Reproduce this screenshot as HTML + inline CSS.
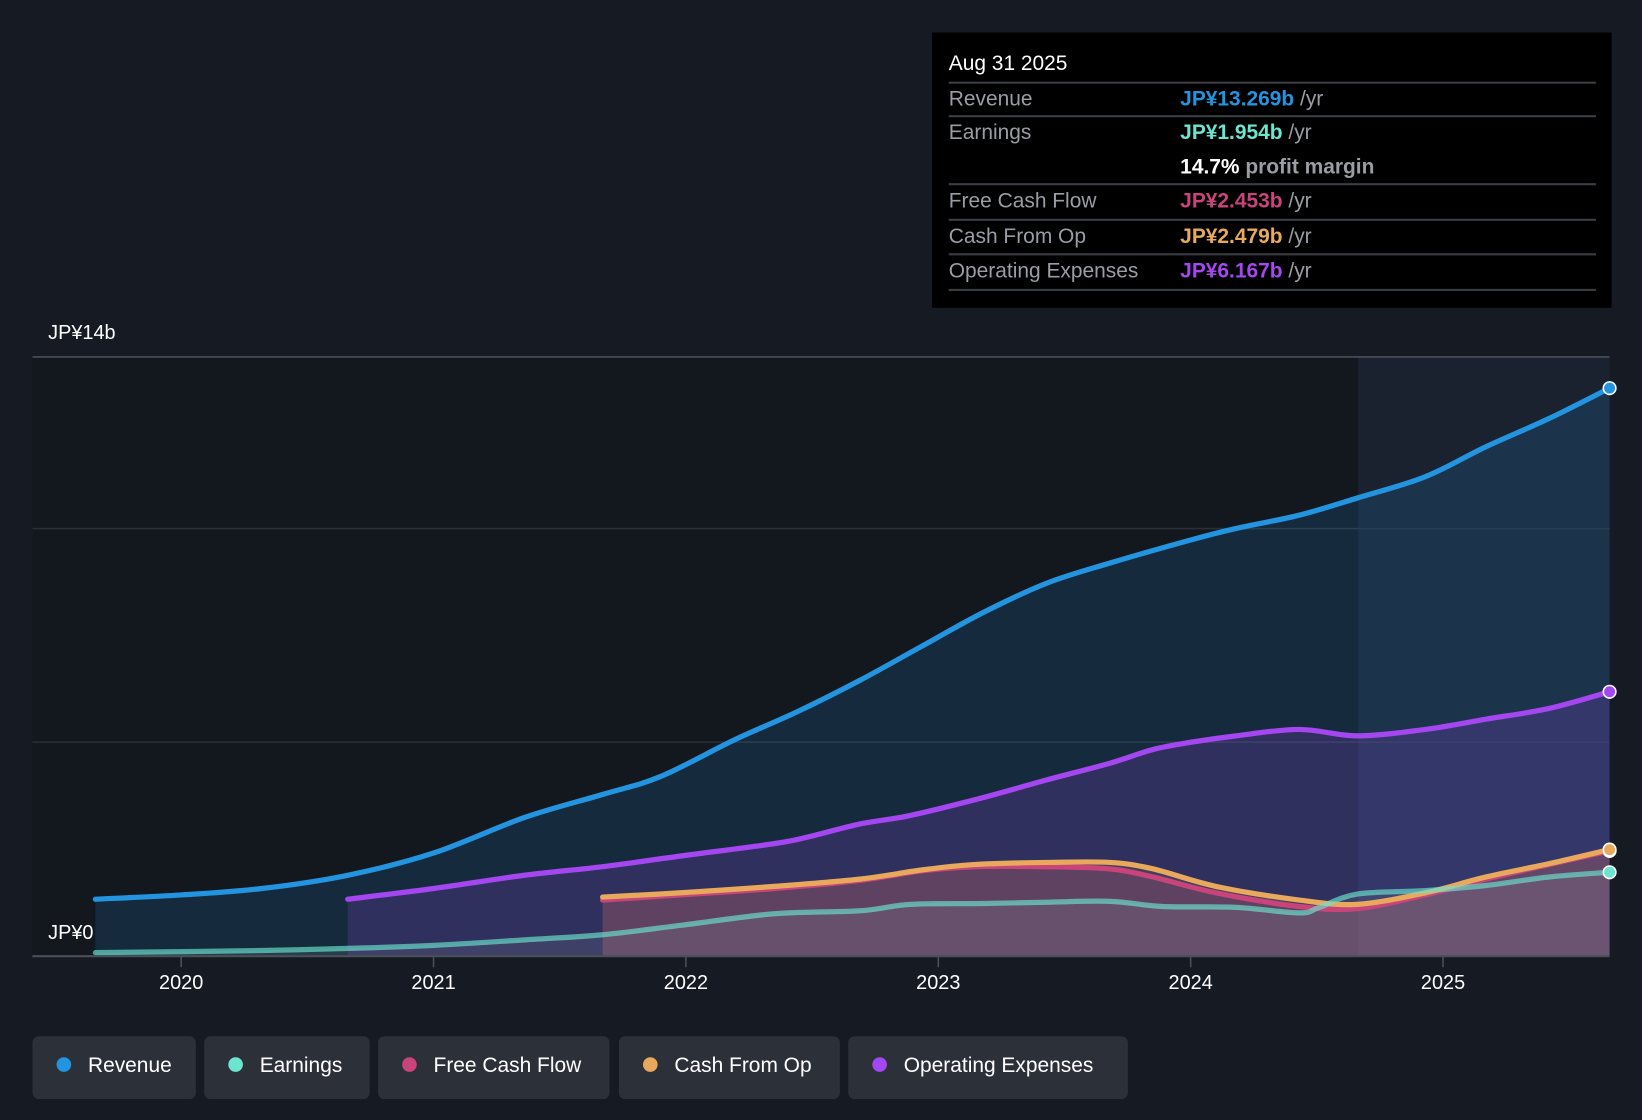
<!DOCTYPE html>
<html><head><meta charset="utf-8"><style>
html,body{margin:0;padding:0;background:#151a23;}
svg{display:block;font-family:"Liberation Sans",sans-serif;}
</style></head><body>
<svg id="chart" width="1642" height="1120" viewBox="0 0 1568 1070" preserveAspectRatio="none" xmlns="http://www.w3.org/2000/svg">
<rect x="0" y="0" width="1568" height="1070" fill="#151a23"/>
<rect x="31" y="341" width="1266" height="572" fill="#13171e"/>
<rect x="1297" y="341" width="240" height="572" fill="#1a2230"/>
<line x1="31" y1="505" x2="1537" y2="505" stroke="#2a2f38" stroke-width="1.5"/>
<line x1="31" y1="709" x2="1537" y2="709" stroke="#2a2f38" stroke-width="1.5"/>
<line x1="31" y1="341" x2="1537" y2="341" stroke="#4a4f58" stroke-width="1.5"/>
<g id="areas"></g>
<g id="lines"></g>
<line x1="31" y1="913.5" x2="1537" y2="913.5" stroke="#4a4f58" stroke-width="2"/>
<g id="xticks"></g>
<text x="46" y="324" fill="#ffffff" font-size="19">JP¥14b</text>
<text x="46" y="897" fill="#ffffff" font-size="19">JP¥0</text>

<g>
<rect x="890" y="31" width="649" height="263" fill="#000000"/>
<text x="906" y="67" fill="#fff" font-size="20">Aug 31 2025</text>
<g stroke="#3a3d42" stroke-width="2">
<line x1="906" y1="79" x2="1524" y2="79"/><line x1="906" y1="111" x2="1524" y2="111"/>
<line x1="906" y1="176" x2="1524" y2="176"/><line x1="906" y1="210" x2="1524" y2="210"/>
<line x1="906" y1="243" x2="1524" y2="243"/><line x1="906" y1="277" x2="1524" y2="277"/>
</g>
<g font-size="20" fill="#9a9da3">
<text x="906" y="101">Revenue</text><text x="906" y="133">Earnings</text>
<text x="906" y="198">Free Cash Flow</text><text x="906" y="232">Cash From Op</text><text x="906" y="265">Operating Expenses</text>
</g>
<g font-size="20" font-weight="bold">
<text x="1127" y="101"><tspan fill="#2394df">JP¥13.269b</tspan><tspan fill="#9a9da3" font-weight="normal"> /yr</tspan></text>
<text x="1127" y="133"><tspan fill="#6ce5d0">JP¥1.954b</tspan><tspan fill="#9a9da3" font-weight="normal"> /yr</tspan></text>
<text x="1127" y="166"><tspan fill="#ffffff">14.7%</tspan><tspan fill="#9a9da3"> profit margin</tspan></text>
<text x="1127" y="198"><tspan fill="#c8447a">JP¥2.453b</tspan><tspan fill="#9a9da3" font-weight="normal"> /yr</tspan></text>
<text x="1127" y="232"><tspan fill="#e8a95c">JP¥2.479b</tspan><tspan fill="#9a9da3" font-weight="normal"> /yr</tspan></text>
<text x="1127" y="265"><tspan fill="#a547f0">JP¥6.167b</tspan><tspan fill="#9a9da3" font-weight="normal"> /yr</tspan></text>
</g>
</g>

<g font-size="20" fill="#ffffff">
<g><rect x="31" y="990" width="156" height="60" rx="6" fill="#2c3039"/><circle cx="61" cy="1017" r="7" fill="#2394df"/><text x="84" y="1024">Revenue</text></g>
<g><rect x="195" y="990" width="158" height="60" rx="6" fill="#2c3039"/><circle cx="225" cy="1017" r="7" fill="#6ce5d0"/><text x="248" y="1024">Earnings</text></g>
<g><rect x="361" y="990" width="221" height="60" rx="6" fill="#2c3039"/><circle cx="391" cy="1017" r="7" fill="#c8447a"/><text x="414" y="1024">Free Cash Flow</text></g>
<g><rect x="591" y="990" width="211" height="60" rx="6" fill="#2c3039"/><circle cx="621" cy="1017" r="7" fill="#e8a95c"/><text x="644" y="1024">Cash From Op</text></g>
<g><rect x="810" y="990" width="267" height="60" rx="6" fill="#2c3039"/><circle cx="840" cy="1017" r="7" fill="#a547f0"/><text x="863" y="1024">Operating Expenses</text></g>
</g>
</svg>
<script>
const xTickYears = [2020, 2021, 2022, 2023, 2024, 2025];
const revenueDates = [2019.66,2020,2020.32,2020.66,2021,2021.36,2021.67,2021.9,2022.19,2022.44,2022.69,2022.93,2023.18,2023.43,2023.68,2024,2024.18,2024.43,2024.66,2024.93,2025.17,2025.42,2025.66];
const revenueValues = [1.32,1.42,1.57,1.88,2.4,3.23,3.77,4.19,5.04,5.7,6.44,7.22,8.03,8.71,9.18,9.72,9.99,10.3,10.7,11.2,11.9,12.56,13.27];
const opexDates = [2020.66,2021,2021.36,2021.67,2021.98,2022.35,2022.48,2022.69,2022.89,2023.18,2023.43,2023.68,2023.85,2024,2024.18,2024.43,2024.66,2024.93,2025.17,2025.42,2025.66];
const opexValues = [1.32,1.57,1.88,2.08,2.33,2.62,2.77,3.08,3.28,3.7,4.11,4.5,4.82,4.99,5.14,5.29,5.14,5.29,5.53,5.78,6.17];
const cfoDates = [2021.67,2021.98,2022.35,2022.69,2022.93,2023.14,2023.43,2023.68,2023.85,2024.1,2024.43,2024.66,2024.93,2025.17,2025.42,2025.66];
const cfoValues = [1.37,1.47,1.62,1.79,2.0,2.13,2.18,2.18,2.03,1.62,1.30,1.2,1.47,1.84,2.15,2.48];
const fcfDates = [2021.67,2021.98,2022.35,2022.69,2022.93,2023.14,2023.43,2023.68,2023.85,2024.1,2024.43,2024.66,2024.93,2025.17,2025.42,2025.66];
const fcfValues = [1.30,1.42,1.57,1.76,1.98,2.08,2.08,2.03,1.84,1.47,1.15,1.10,1.42,1.79,2.13,2.45];
const earningsDates = [2019.66,2020.32,2020.66,2021,2021.36,2021.67,2021.98,2022.35,2022.69,2022.89,2023.18,2023.43,2023.68,2023.89,2024.18,2024.43,2024.51,2024.66,2024.93,2025.17,2025.42,2025.66];
const earningsValues = [0.07,0.12,0.17,0.24,0.37,0.49,0.71,0.98,1.05,1.2,1.22,1.25,1.27,1.15,1.13,1.0,1.13,1.44,1.52,1.64,1.84,1.95];

const xScale = y => 173 + (y - 2020) * 241;
const yScale = v => 913 - v / 14 * 572;
const NS = "http://www.w3.org/2000/svg";

function smoothPath(pts){
  let d = "M" + pts[0][0] + "," + pts[0][1];
  for (let i = 0; i < pts.length - 1; i++){
    const p0 = pts[i-1] || pts[i], p1 = pts[i], p2 = pts[i+1], p3 = pts[i+2] || p2;
    const c1x = p1[0] + (p2[0]-p0[0])/6, c1y = p1[1] + (p2[1]-p0[1])/6;
    const c2x = p2[0] - (p3[0]-p1[0])/6, c2y = p2[1] - (p3[1]-p1[1])/6;
    d += " C" + c1x + "," + c1y + " " + c2x + "," + c2y + " " + p2[0] + "," + p2[1];
  }
  return d;
}
const series = [
  {name:"revenue", dates:revenueDates, vals:revenueValues, color:"#2394df", fill:"rgba(35,148,223,0.16)"},
  {name:"operating-expenses", dates:opexDates, vals:opexValues, color:"#a547f0", fill:"rgba(165,71,240,0.18)"},
  {name:"free-cash-flow", dates:fcfDates, vals:fcfValues, color:"#c8447a", fill:"rgba(200,68,122,0.2)"},
  {name:"cash-from-op", dates:cfoDates, vals:cfoValues, color:"#e8a95c", fill:"rgba(232,169,92,0.12)"},
  {name:"earnings", dates:earningsDates, vals:earningsValues, color:"#6ce5d0", fill:"rgba(150,160,170,0.15)"}
];
const areas = document.getElementById("areas"), lines = document.getElementById("lines");
series.forEach(s => {
  const pts = s.dates.map((d,i) => [xScale(d), yScale(s.vals[i])]);
  const line = smoothPath(pts);
  const a = document.createElementNS(NS, "path");
  a.setAttribute("d", line + " L" + pts[pts.length-1][0] + ",913 L" + pts[0][0] + ",913 Z");
  a.setAttribute("fill", s.fill);
  
  
  areas.appendChild(a);
  const l = document.createElementNS(NS, "path");
  l.setAttribute("d", line);
  l.setAttribute("fill", "none");
  l.setAttribute("stroke", s.color);
  l.setAttribute("stroke-width", "5");
  l.setAttribute("stroke-linecap", "round");
  if (s.name === "earnings") l.setAttribute("stroke-opacity", "0.65");
  
  
  lines.appendChild(l);
  const last = pts[pts.length-1];
  const c = document.createElementNS(NS, "circle");
  c.setAttribute("cx", last[0]); c.setAttribute("cy", last[1]); c.setAttribute("r", "6");
  c.setAttribute("fill", s.color); c.setAttribute("stroke", "#ffffff"); c.setAttribute("stroke-width", "1.5");
  
  
  lines.appendChild(c);
});
const xt = document.getElementById("xticks");
xTickYears.forEach(y => {
  const t = document.createElementNS(NS, "line");
  t.setAttribute("x1", xScale(y)); t.setAttribute("x2", xScale(y));
  t.setAttribute("y1", 914); t.setAttribute("y2", 924);
  t.setAttribute("stroke", "#4a4f58"); t.setAttribute("stroke-width", "1.5");
  
  
  xt.appendChild(t);
  const tx = document.createElementNS(NS, "text");
  tx.setAttribute("x", xScale(y)); tx.setAttribute("y", 945);
  tx.setAttribute("text-anchor", "middle"); tx.setAttribute("fill", "#ffffff"); tx.setAttribute("font-size", "19");
  tx.textContent = y;
  
  
  xt.appendChild(tx);
});
</script>
</body></html>
